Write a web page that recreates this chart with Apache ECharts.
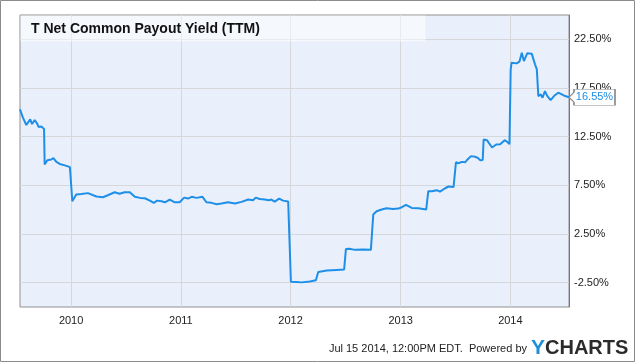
<!DOCTYPE html>
<html>
<head>
<meta charset="utf-8">
<script src="https://cdn.jsdelivr.net/npm/echarts@6.0.0/dist/echarts.min.js"></script>
<style>
html,body{margin:0;padding:0;background:#fff;}
#chart{width:635px;height:362px;}
</style>
</head>
<body>
<div id="chart"></div>
<script>
const chartTitle = 'T Net Common Payout Yield (TTM)';
const footerText = 'Jul 15 2014, 12:00PM EDT.  Powered by';

const dates = [
'2009-07-15','2009-07-24','2009-08-05','2009-08-18','2009-08-24','2009-09-02','2009-09-09','2009-09-15','2009-09-24','2009-09-29','2009-10-03','2009-10-05','2009-10-14','2009-10-27','2009-11-03','2009-11-13','2009-11-24','2009-12-11','2009-12-28',
'2010-01-01','2010-01-05','2010-01-18','2010-02-04','2010-02-26','2010-03-26','2010-04-17','2010-05-03','2010-05-26','2010-06-11','2010-06-28','2010-07-15','2010-08-01','2010-08-18','2010-09-03','2010-09-20','2010-10-03','2010-10-14','2010-10-29','2010-11-09','2010-11-25','2010-12-12','2010-12-28',
'2011-01-12','2011-01-25','2011-02-06','2011-02-22','2011-03-14','2011-03-27','2011-04-13','2011-04-30','2011-05-16','2011-06-07','2011-06-30','2011-07-06','2011-07-22','2011-08-13','2011-08-29','2011-09-07','2011-09-20','2011-10-07','2011-10-21','2011-10-29','2011-11-09','2011-11-24','2011-12-07','2011-12-24','2011-12-29',
'2012-01-02','2012-01-21','2012-02-06','2012-03-05','2012-03-25','2012-03-30','2012-04-02','2012-04-30','2012-06-02','2012-06-27','2012-06-30','2012-07-03','2012-07-15','2012-08-02','2012-08-29','2012-09-24','2012-09-28','2012-10-02','2012-10-13','2012-10-30','2012-11-15','2012-12-07','2012-12-24',
'2013-01-05','2013-01-19','2013-02-07','2013-03-01','2013-03-27','2013-03-31','2013-04-03','2013-04-15','2013-05-01','2013-05-12','2013-05-29','2013-06-09','2013-06-26','2013-06-30','2013-07-04','2013-07-12','2013-07-24','2013-08-04','2013-08-09','2013-08-23','2013-09-06','2013-09-14','2013-09-23','2013-10-01','2013-10-04','2013-10-15','2013-11-01','2013-11-15','2013-11-28','2013-12-13','2013-12-21','2013-12-29',
'2014-01-02','2014-01-05','2014-01-11','2014-01-22','2014-01-31','2014-02-08','2014-02-15','2014-02-26','2014-03-13','2014-03-24','2014-03-30','2014-04-04','2014-04-12','2014-04-18','2014-04-26','2014-05-04','2014-05-15','2014-05-26','2014-06-09','2014-06-21','2014-07-02','2014-07-15'
];

const values = [
15.3,14.5,13.7,14.27,13.8,14.2,13.9,13.5,13.55,13.35,13.3,9.64,10.08,10.15,10.3,9.9,9.7,9.55,9.37,
9.3,5.86,6.55,6.6,6.7,6.35,6.28,6.48,6.79,6.63,6.79,6.8,6.32,6.21,6.17,5.93,5.7,5.93,5.86,5.76,6.04,5.76,5.76,
6.24,6.14,6.32,6.21,6.32,5.76,5.7,5.56,5.63,5.76,5.63,5.52,5.8,6.04,5.97,6.24,6.1,6.04,5.97,6.04,5.83,6.14,5.93,5.83,5.8,
-2.4,-2.43,-2.47,-2.37,-2.26,-2.24,-1.4,-1.26,-1.19,-1.16,-1.15,0.95,0.98,0.87,0.9,0.87,0.9,4.5,4.84,5.01,5.15,5.08,5.11,
5.25,5.49,5.18,5.15,5.01,5.0,6.9,6.9,7.0,6.85,7.2,7.38,7.32,7.3,9.87,9.77,9.91,9.87,10.08,10.5,10.43,10.33,10.08,10.1,12.21,12.14,11.39,11.7,11.73,12.14,11.98,11.73,
19.4,20.1,20.24,20.03,20.2,21.13,20.27,21.06,21.03,19.93,19.41,16.67,16.84,16.5,17.18,16.67,16.26,16.67,17.02,16.84,16.67,16.55
];

const yTicks = [-2.5, 2.5, 7.5, 12.5, 17.5, 22.5];
const yearLines = ['2010-01-01','2011-01-01','2012-01-01','2013-01-01','2014-01-01'];

const FONT = 'Liberation Sans, Arial, sans-serif';
const LINE_COLOR = '#1e8fe8';

const lastDate = dates[dates.length - 1];
const lastValue = values[values.length - 1];

const chart = echarts.init(document.getElementById('chart'), null, {renderer: 'canvas'});

const option = {
  animation: false,
  backgroundColor: '#ffffff',
  grid: {
    left: 20, right: 66, top: 15, bottom: 55,
    show: true, backgroundColor: '#eaf0fb', borderColor: '#8f8f8f', borderWidth: 1
  },
  xAxis: {
    type: 'time',
    min: dates[0],
    max: lastDate,
    splitNumber: 5,
    minInterval: 300 * 86400000,
    axisLine: {show: false},
    axisTick: {show: false},
    splitLine: {show: false},
    axisLabel: {
      formatter: '{yyyy}', color: '#222', fontSize: 11, fontFamily: FONT,
      margin: 8, showMinLabel: false, showMaxLabel: false
    }
  },
  yAxis: {
    type: 'value',
    position: 'right',
    min: -5, max: 25, interval: 2.5,
    axisLine: {show: true, lineStyle: {color: '#777', width: 1}},
    axisTick: {show: false},
    splitLine: {show: false},
    axisLabel: {
      formatter: function (v) { return yTicks.indexOf(v) >= 0 ? v.toFixed(2) + '%' : ''; },
      color: '#222', fontSize: 11, fontFamily: FONT, margin: 5
    }
  },
  series: [
    {
      type: 'line',
      data: [],
      silent: true,
      z: 1,
      markLine: {
        silent: true,
        symbol: 'none',
        label: {show: false},
        lineStyle: {color: '#d5d7db', width: 1, type: 'solid'},
        data: yTicks.map(v => ({yAxis: v})).concat(yearLines.map(d => ({xAxis: d})))
      }
    },
    {
      type: 'line',
      z: 3,
      zlevel: 1,
      data: dates.map((d, i) => [d, values[i]]),
      showSymbol: false,
      symbol: 'none',
      lineStyle: {color: LINE_COLOR, width: 2},
      itemStyle: {color: LINE_COLOR},
      markPoint: {
        silent: true,
        symbol: 'path://M0,8 L5,3 L5,0 L46,0 L46,16 L5,16 L5,13 Z',
        symbolSize: [46, 16],
        symbolKeepAspect: false,
        symbolOffset: [23, 0],
        itemStyle: {color: '#ffffff', borderColor: '#8a8a8a', borderWidth: 1},
        label: {
          show: true,
          position: 'inside',
          offset: [2.5, 0],
          formatter: function () { return lastValue.toFixed(2) + '%'; },
          color: LINE_COLOR,
          fontSize: 11,
          fontFamily: FONT
        },
        data: [{coord: [lastDate, lastValue], value: lastValue}]
      }
    }
  ],
  graphic: [
    {
      type: 'rect', z: 50, silent: true,
      shape: {x: 20.5, y: 15.5, width: 405, height: 26},
      style: {fill: 'rgba(255,255,255,0.5)'}
    },
    {
      type: 'text', z: 51, silent: true,
      x: 31, y: 29,
      style: {text: chartTitle, font: 'bold 14px ' + FONT, fill: '#111', verticalAlign: 'middle'}
    },
    {
      type: 'text', z: 51, silent: true,
      x: 527, y: 349,
      style: {text: footerText, font: '11px ' + FONT, fill: '#222', align: 'right', verticalAlign: 'middle'}
    },
    {
      type: 'text', z: 51, silent: true,
      x: 531, y: 348,
      style: {
        text: '{y|Y}{c|CHARTS}',
        verticalAlign: 'middle',
        rich: {
          y: {font: 'bold 21px ' + FONT, fill: '#1e8fd8'},
          c: {font: 'bold 20px ' + FONT, fill: '#2b2b2b'}
        }
      }
    },
    {
      type: 'rect', z: 60, silent: true,
      shape: {x: 0.5, y: 0.5, width: 634, height: 361},
      style: {fill: 'none', stroke: '#8c8c8c', lineWidth: 1}
    }
  ]
};

chart.setOption(option);
</script>
</body>
</html>
